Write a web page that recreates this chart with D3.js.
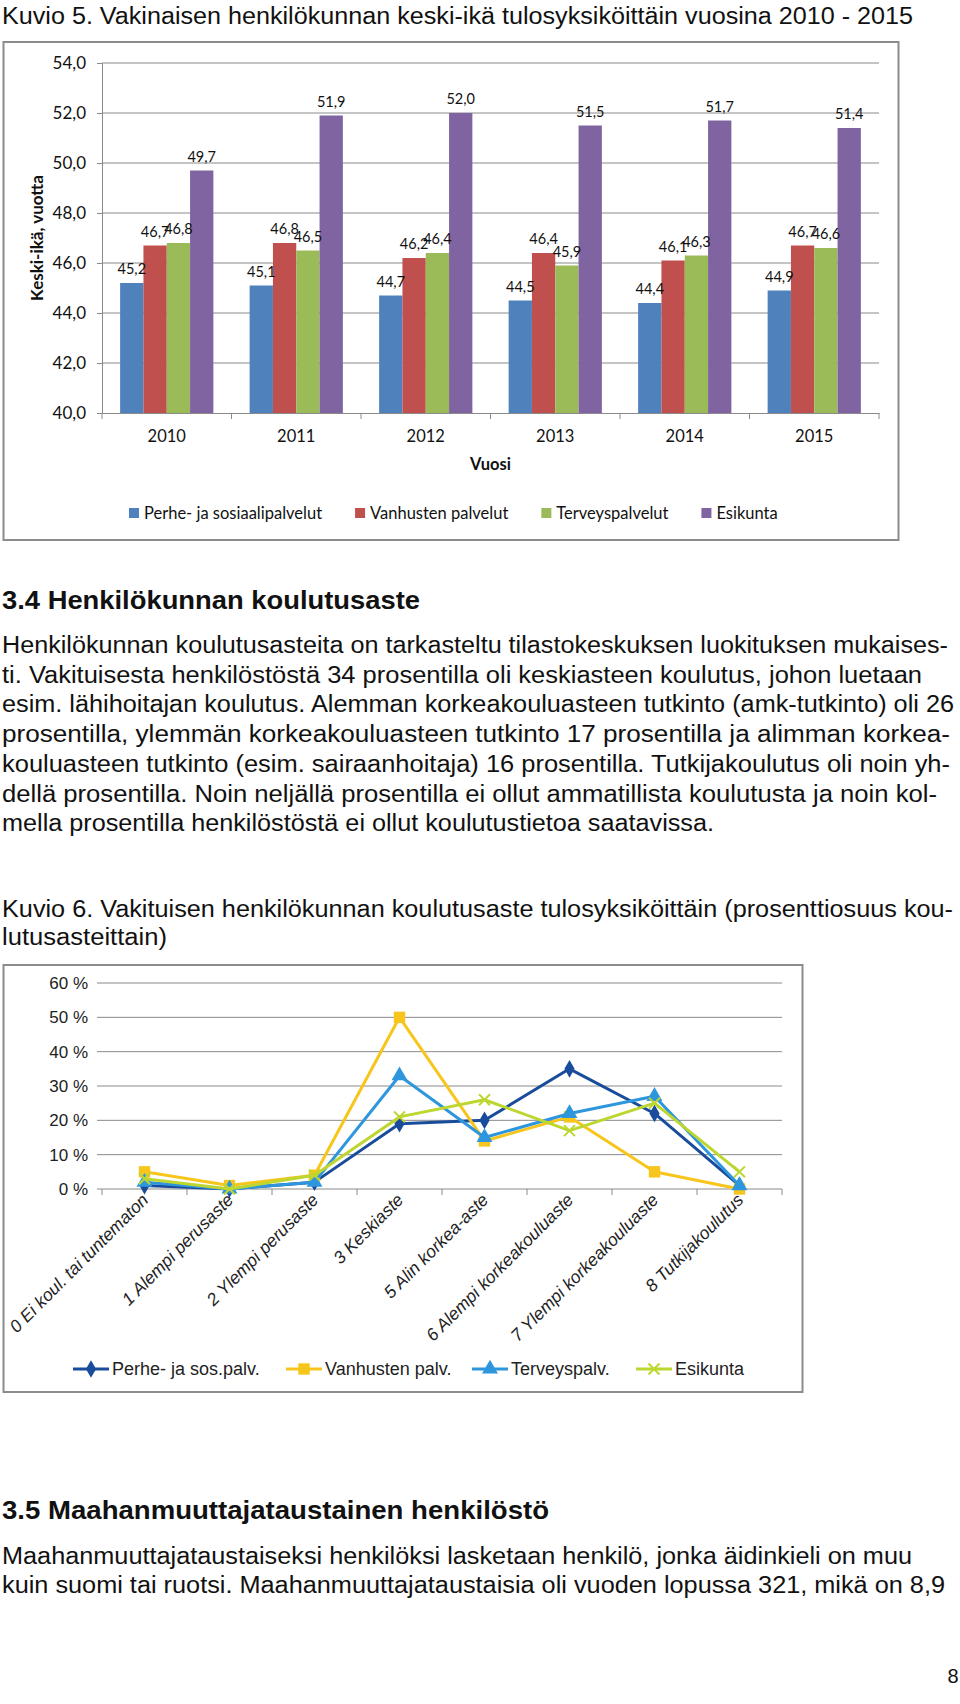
<!DOCTYPE html>
<html>
<head>
<meta charset="utf-8">
<script src="https://cdn.jsdelivr.net/npm/d3@7"></script>
<style>
  body { margin: 0; background: #fff; }
  svg { display: block; }
</style>
</head>
<body>
<svg id="page"></svg>
<script>
// --- Kuvio 5: keski-ikä tulosyksiköittäin ---
var years = ["2010", "2011", "2012", "2013", "2014", "2015"];
var units = ["Perhe- ja sosiaalipalvelut", "Vanhusten palvelut", "Terveyspalvelut", "Esikunta"];
var perheAge = [45.2, 45.1, 44.7, 44.5, 44.4, 44.9];
var vanhusAge = [46.7, 46.8, 46.2, 46.4, 46.1, 46.7];
var terveysAge = [46.8, 46.5, 46.4, 45.9, 46.3, 46.6];
var esikuntaAge = [49.7, 51.9, 52.0, 51.5, 51.7, 51.4];
var ageTicks = [40, 42, 44, 46, 48, 50, 52, 54];

// --- Kuvio 6: koulutusaste ---
var levels = ["0 Ei koul. tai tuntematon", "1 Alempi perusaste", "2 Ylempi perusaste", "3 Keskiaste",
  "5 Alin korkea-aste", "6 Alempi korkeakouluaste", "7 Ylempi korkeakouluaste", "8 Tutkijakoulutus"];
var lineSeries = ["Perhe- ja sos.palv.", "Vanhusten palv.", "Terveyspalv.", "Esikunta"];
var perheEdu = [1, 0, 2, 19, 20, 35, 22, 1];
var vanhusEdu = [5, 1, 4, 50, 14, 21, 5, 0];
var terveysEdu = [2, 0, 2, 33, 15, 22, 27, 1];
var esikuntaEdu = [3, 0, 4, 21, 26, 17, 25, 5];
var pctTicks = [0, 10, 20, 30, 40, 50, 60];

// page text
var title5 = "Kuvio 5. Vakinaisen henkilökunnan keski-ikä tulosyksiköittäin vuosina 2010 - 2015";
var heading34 = "3.4 Henkilökunnan koulutusaste";
var body34 = [
  "Henkilökunnan koulutusasteita on tarkasteltu tilastokeskuksen luokituksen mukaises-",
  "ti. Vakituisesta henkilöstöstä 34 prosentilla oli keskiasteen koulutus, johon luetaan",
  "esim. lähihoitajan koulutus. Alemman korkeakouluasteen tutkinto (amk-tutkinto) oli 26",
  "prosentilla, ylemmän korkeakouluasteen tutkinto 17 prosentilla ja alimman korkea-",
  "kouluasteen tutkinto (esim. sairaanhoitaja) 16 prosentilla. Tutkijakoulutus oli noin yh-",
  "dellä prosentilla. Noin neljällä prosentilla ei ollut ammatillista koulutusta ja noin kol-",
  "mella prosentilla henkilöstöstä ei ollut koulutustietoa saatavissa."
];
var title6 = ["Kuvio 6. Vakituisen henkilökunnan koulutusaste tulosyksiköittäin (prosenttiosuus kou-",
  "lutusasteittain)"];
var heading35 = "3.5 Maahanmuuttajataustainen henkilöstö";
var body35 = [
  "Maahanmuuttajataustaiseksi henkilöksi lasketaan henkilö, jonka äidinkieli on muu",
  "kuin suomi tai ruotsi. Maahanmuuttajataustaisia oli vuoden lopussa 321, mikä on 8,9"
];

var docFont = "'Liberation Sans', Arial, sans-serif";
var xlFont = "Lato, 'Open Sans', sans-serif";

var page = d3.select("#page").attr("width", 960).attr("height", 1704);
page.append("rect").attr("width", 960).attr("height", 1704).attr("fill", "#fff");

// one line of document text, squeezed to the width it has in the scan
function docLine(txt, x, y, size, len, bold) {
  var t = page.append("text")
    .attr("x", x).attr("y", y)
    .attr("font-family", docFont)
    .attr("font-size", size + "px")
    .attr("font-weight", bold ? "bold" : "normal")
    .attr("fill", "#111")
    .text(txt);
  if (len) t.attr("textLength", len).attr("lengthAdjust", "spacingAndGlyphs");
  return t;
}

docLine(title5, 2, 24, 23, 911);

// ================= chart 1 (grouped bars) =================
page.append("rect")
  .attr("x", 3.5).attr("y", 42).attr("width", 895).attr("height", 498)
  .attr("fill", "none").attr("stroke", "#8c8c8c").attr("stroke-width", 2);

var barColors = ["#4F81BD", "#C0504D", "#9BBB59", "#8064A2"];
var ageData = [perheAge, vanhusAge, terveysAge, esikuntaAge];

var x0 = d3.scaleBand().domain(years).range([102, 879]).paddingInner(0.28).paddingOuter(0.14);
var x1 = d3.scaleBand().domain(units).range([0, x0.bandwidth()]);
var y = d3.scaleLinear().domain([40, 54]).range([413, 63]);
var comma = function(d) { return d3.format(".1f")(d).replace(".", ","); };

var c1 = page.append("g");

// gridlines
c1.selectAll("line.grid").data(ageTicks.slice(1)).enter().append("line")
  .attr("x1", 102).attr("x2", 879)
  .attr("y1", function(d) { return y(d); }).attr("y2", function(d) { return y(d); })
  .attr("stroke", "#8a8a8a").attr("stroke-width", 1);

// y axis
var yAxis = c1.append("g").attr("transform", "translate(102,0)")
  .call(d3.axisLeft(y).tickValues(ageTicks).tickSize(5).tickPadding(11).tickFormat(comma));
yAxis.select(".domain").attr("stroke", "#8a8a8a");
yAxis.selectAll(".tick line").attr("stroke", "#8a8a8a");
yAxis.selectAll(".tick text").attr("font-family", xlFont).attr("font-size", "17px").attr("fill", "#111");

// x axis: baseline + boundary ticks
var xAxis = c1.append("g").attr("transform", "translate(0,413)")
  .call(d3.axisBottom(x0).tickSize(0).tickPadding(17));
xAxis.select(".domain").attr("stroke", "#8a8a8a");
xAxis.selectAll(".tick text").attr("font-family", xlFont).attr("font-size", "16.5px").attr("fill", "#111");
c1.selectAll("line.bound").data(d3.range(years.length + 1)).enter().append("line")
  .attr("x1", function(i) { return x0.range()[0] + i * x0.step(); })
  .attr("x2", function(i) { return x0.range()[0] + i * x0.step(); })
  .attr("y1", 413).attr("y2", 419)
  .attr("stroke", "#8a8a8a");

// bars
var groups = c1.selectAll("g.year").data(years).enter().append("g")
  .attr("transform", function(d) { return "translate(" + x0(d) + ",0)"; });

function yearRows(d, i) {
  return units.map(function(u, k) { return { unit: u, k: k, v: ageData[k][i] }; });
}

groups.selectAll("rect").data(yearRows)
  .enter().append("rect")
  .attr("x", function(d) { return x1(d.unit); })
  .attr("y", function(d) { return y(d.v); })
  .attr("width", x1.bandwidth())
  .attr("height", function(d) { return y(40) - y(d.v); })
  .attr("fill", function(d) { return barColors[d.k]; });

groups.selectAll("text").data(yearRows)
  .enter().append("text")
  .attr("x", function(d) { return x1(d.unit) + x1.bandwidth() / 2; })
  .attr("y", function(d) { return y(d.v) - 9; })
  .attr("text-anchor", "middle")
  .attr("font-family", xlFont).attr("font-size", "14.5px").attr("fill", "#111")
  .text(function(d) { return comma(d.v); });

// axis titles
c1.append("text")
  .attr("transform", "translate(43," + (y(47)) + ") rotate(-90)")
  .attr("text-anchor", "middle")
  .attr("font-family", xlFont).attr("font-size", "17px").attr("font-weight", "bold").attr("fill", "#111")
  .text("Keski-ikä, vuotta");
c1.append("text")
  .attr("x", (x0.range()[0] + x0.range()[1]) / 2).attr("y", 470)
  .attr("text-anchor", "middle")
  .attr("font-family", xlFont).attr("font-size", "16.5px").attr("font-weight", "bold").attr("fill", "#111")
  .text("Vuosi");

// legend
var leg1 = c1.append("g").attr("transform", "translate(0,513)");
var lx = 129;
units.forEach(function(u, k) {
  leg1.append("rect").attr("x", lx).attr("y", -5).attr("width", 10).attr("height", 10).attr("fill", barColors[k]);
  var t = leg1.append("text").attr("x", lx + 15).attr("y", 6)
    .attr("font-family", xlFont).attr("font-size", "16.5px").attr("fill", "#111").text(u);
  lx += 15 + t.node().getComputedTextLength() + 33;
});

// ================= text between charts =================
docLine(heading34, 2, 609, 25, 418, true);
var body34Len = [946, 920, 952, 948, 948, 935, 712];
body34.forEach(function(s, i) { docLine(s, 2, 653 + i * 29.7, 23, body34Len[i]); });
docLine(title6[0], 2, 917, 23, 951);
docLine(title6[1], 2, 945, 23, 165);

// ================= chart 2 (lines) =================
page.append("rect")
  .attr("x", 3.5).attr("y", 965).attr("width", 799).attr("height", 427)
  .attr("fill", "none").attr("stroke", "#8c8c8c").attr("stroke-width", 2);

var lineColors = ["#1A4C9C", "#F7C51B", "#2E96DC", "#BDD630"];
var symbols = [d3.symbolDiamond, d3.symbolSquare, d3.symbolTriangle, d3.symbolX];
var symSize = [90, 130, 110, 80];
var eduData = [perheEdu, vanhusEdu, terveysEdu, esikuntaEdu];

var xp = d3.scalePoint().domain(levels).range([102, 782]).padding(0.5);
var yp = d3.scaleLinear().domain([0, 60]).range([1189, 983]);

var c2 = page.append("g");

c2.selectAll("line.grid").data(pctTicks).enter().append("line")
  .attr("x1", 97).attr("x2", 782)
  .attr("y1", function(d) { return yp(d); }).attr("y2", function(d) { return yp(d); })
  .attr("stroke", "#8a8a8a").attr("stroke-width", 1);

c2.selectAll("text.ytick").data(pctTicks).enter().append("text")
  .attr("x", 88).attr("y", function(d) { return yp(d) + 6; })
  .attr("text-anchor", "end")
  .attr("font-family", docFont).attr("font-size", "17px").attr("fill", "#222")
  .text(function(d) { return d + " %"; });

c2.selectAll("line.bound").data(d3.range(levels.length + 1)).enter().append("line")
  .attr("x1", function(i) { return 102 + i * xp.step(); })
  .attr("x2", function(i) { return 102 + i * xp.step(); })
  .attr("y1", 1189).attr("y2", 1195)
  .attr("stroke", "#8a8a8a");

c2.selectAll("text.xlab").data(levels).enter().append("text")
  .attr("transform", function(d) { return "translate(" + (xp(d) + 5) + ",1201) rotate(-45)"; })
  .attr("text-anchor", "end")
  .attr("font-family", docFont).attr("font-size", "17.5px").attr("font-style", "italic").attr("fill", "#222")
  .text(function(d) { return d; });

var pathGen = d3.line()
  .x(function(d, i) { return xp(levels[i]); })
  .y(function(d) { return yp(d); });

function marker(sel, k) {
  sel.attr("d", d3.symbol().type(symbols[k]).size(symSize[k]));
  if (k === 3) sel.attr("fill", "none").attr("stroke", lineColors[k]).attr("stroke-width", 2);
  else sel.attr("fill", lineColors[k]).attr("stroke", "none");
}

eduData.forEach(function(vals, k) {
  c2.append("path").datum(vals)
    .attr("d", pathGen)
    .attr("fill", "none").attr("stroke", lineColors[k]).attr("stroke-width", 3)
    .attr("stroke-linejoin", "round");
  c2.selectAll("path.m" + k).data(vals).enter().append("path")
    .attr("class", "m" + k)
    .attr("transform", function(d, i) { return "translate(" + xp(levels[i]) + "," + yp(d) + ")"; })
    .call(marker, k);
});

// legend
var leg2 = c2.append("g").attr("transform", "translate(0,1369)");
var lx2 = [73, 286, 472, 636];
lineSeries.forEach(function(s, k) {
  leg2.append("line").attr("x1", lx2[k]).attr("x2", lx2[k] + 36).attr("y1", 0).attr("y2", 0)
    .attr("stroke", lineColors[k]).attr("stroke-width", 3);
  leg2.append("path").attr("transform", "translate(" + (lx2[k] + 18) + ",0)").call(marker, k);
  leg2.append("text").attr("x", lx2[k] + 39).attr("y", 6)
    .attr("font-family", docFont).attr("font-size", "18px").attr("fill", "#222").text(s);
});

// ================= section 3.5 =================
docLine(heading35, 2, 1519, 25, 547, true);
var body35Len = [910, 943];
body35.forEach(function(s, i) { docLine(s, 2, 1564 + i * 29.3, 23, body35Len[i]); });
page.append("text").attr("x", 953).attr("y", 1683).attr("text-anchor", "middle")
  .attr("font-family", docFont).attr("font-size", "20px").attr("fill", "#111").text("8");
</script>
</body>
</html>
